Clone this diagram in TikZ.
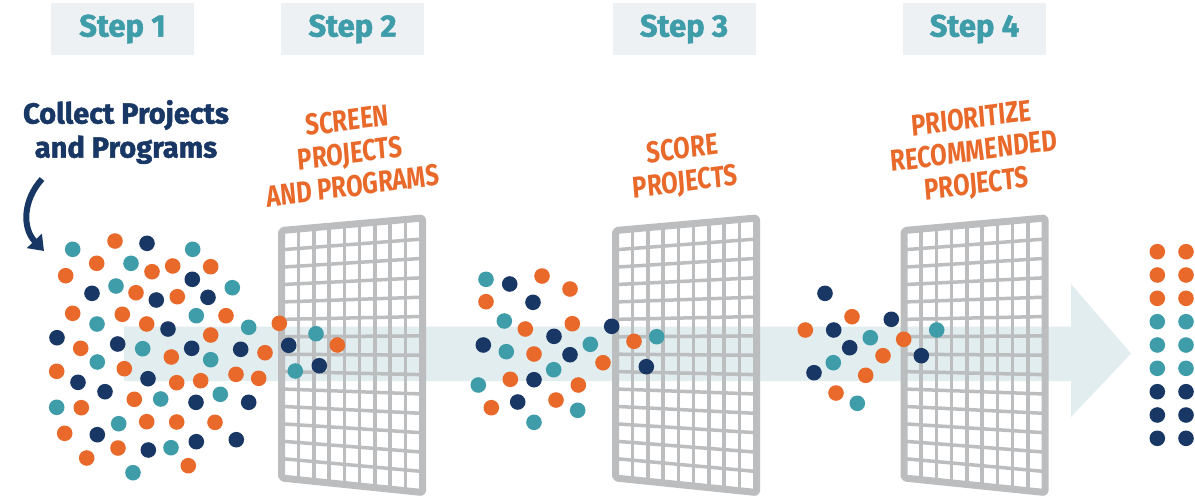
\documentclass[tikz,border=0pt]{standalone}
\usepackage{fontspec}
\newfontfamily\fira{Fira Sans}
\newfontfamily\firaheavy{Fira Sans}[BoldFeatures={FakeBold=1.6}]
\usetikzlibrary{calc,arrows.meta}
\definecolor{cO}{HTML}{E8692A}
\definecolor{cT}{HTML}{3F9DAA}
\definecolor{cN}{HTML}{183764}
\definecolor{band}{HTML}{E1EDEF}
\definecolor{stepfill}{HTML}{EDF1F4}
\definecolor{gridgray}{HTML}{BCBDBF}
\tikzset{
  stepbox/.style={fill=stepfill, minimum width=143pt, minimum height=52pt, inner sep=0pt,
    text=cT, font=\firaheavy\bfseries\fontsize{31}{31}\selectfont},
  orangetxt/.style={text=cO, align=center, xscale=0.8, rotate=6,
    font=\fira\bfseries\fontsize{30}{33}\selectfont},
  gridbar/.style={draw=gridgray, line width=3.5pt},
  framebar/.style={draw=gridgray, line width=7pt, line join=round, rounded corners=2pt},
  dotO/.style={fill=cO},
  dotT/.style={fill=cT},
  dotN/.style={fill=cN},
}
\begin{document}
\begin{tikzpicture}[x=1pt,y=-1pt]
\useasboundingbox[fill=white] (0,0) rectangle (1195,496);
% flow band arrow
\fill[band] (124,326.7) -- (1071,326.7) -- (1071,284) -- (1131,353.5) -- (1071,417) -- (1071,381) -- (124,381) -- cycle;
% screens
\foreach \sx [count=\k] in {278,612,900.5}{
  \begin{scope}[shift={(\sx,0)}]
    \coordinate (tl\k) at (3.5,230.5);
    \coordinate (tr\k) at (144.5,218);
    \coordinate (br\k) at (144.5,492.5);
    \coordinate (bl\k) at (3.5,478);
    \coordinate (itl\k) at (5.25,232.2);
    \coordinate (itr\k) at (142.75,219.8);
    \coordinate (ibr\k) at (142.75,490.7);
    \coordinate (ibl\k) at (5.25,476.2);
    \foreach \i in {1,...,8}
      \draw[gridbar] ($(itl\k)!\i/9!(itr\k)$) -- ($(ibl\k)!\i/9!(ibr\k)$);
    \foreach \j in {1,...,13}
      \draw[gridbar] ($(itl\k)!\j/14!(ibl\k)$) -- ($(itr\k)!\j/14!(ibr\k)$);
    \draw[framebar] (tl\k) -- (tr\k) -- (br\k) -- (bl\k) -- cycle;
  \end{scope}
}
% dots: orange
\foreach \p in {(115,241),(96.7,263.3),(152,271.7),(172.7,266),(210.7,266.7),(65.7,275.7),(136,292.7),(177.3,296.7),(72.7,313.3),(122.3,314.3),(226,315.7),(146.7,324),(279.3,323.3),(210.7,335),(80.7,348.3),(337.3,345),(171.3,357),(265,352.7),(124.3,368.7),(56.7,371.3),(236,374.3),(258.7,378.3),(176.7,382.7),(200.7,380.7),(134.3,399.3),(81.3,407.7),(146.7,421.7),(176.7,422),(215,422.3),(64.7,433.3),(118,448),(86.7,458),(188.3,465.7),
  (542,276),(570,289),(486,301.7),(525.3,329),(572.3,323.7),(534,354),(634,341.3),(603,362.7),(510.3,379.3),(578.3,385),(556,400),(491.3,407.7),
  (852,316.7),(805.3,330),(903.7,339.3),(883,355.7),(865.7,375.3),(836,393),
  (1157.3,251.7),(1186,251.7),(1157.3,275),(1186,275),(1157.3,298.3),(1186,298.3)}
  \fill[dotO] \p circle (7.8);
% dots: teal
\foreach \p in {(72.7,249.3),(192.7,249.3),(131,263.3),(116,286),(232.3,287.7),(196.3,315.7),(97,324),(248.7,327.3),(316,333.7),(142.7,348.7),(210.7,359.7),(97.3,362),(295.3,371),(160.7,399),(220.3,394.3),(56.7,407.3),(118.7,423.7),(171,447.7),(133,472.7),
  (486,279.3),(504.3,321),(506.3,351.7),(590.3,344.3),(656.7,336.7),(553.7,369.7),(478.3,385),(577.7,410.3),(534,422.3),
  (870.3,337.7),(936.7,330),(833.3,362.7),(857.3,403.3),
  (1157.3,321.7),(1186,321.7),(1157.3,345),(1186,345),(1157.3,368.3),(1186,368.3)}
  \fill[dotT] \p circle (7.8);
% dots: navy
\foreach \p in {(147,243.3),(192.3,279.3),(92,293.3),(156.3,300),(208,297.3),(168,329),(57,337.7),(117.7,344),(191.7,348.3),(240.7,349.3),(288.7,345.3),(319.3,365.7),(148,378.7),(78,382.3),(105,391.7),(196,402.3),(248.7,402.3),(97.3,434.7),(148.3,450),(196.3,441.7),(236.3,439.7),
  (509.7,284),(533,302.3),(554,336.3),(611.7,326.3),(483.3,345),(570,354.7),(646.3,366.7),(534,379.7),(517.7,402),
  (825,293.3),(891.3,319.3),(833.7,330),(849.7,347.7),(921.3,355.7),(814,372.7),
  (1157.3,391.7),(1186,391.7),(1157.3,415),(1186,415),(1157.3,438.3),(1186,438.3)}
  \fill[dotN] \p circle (7.8);
% step labels
\node[stepbox] (s1) at (122.5,29) {Step 1};
\node[stepbox] (s2) at (352.5,29) {Step 2};
\node[stepbox] (s3) at (684,29) {Step 3};
\node[stepbox] (s4) at (974.5,29) {Step 4};
% titles
\node[text=cN, align=center, font=\firaheavy\bfseries\fontsize{29}{34}\selectfont] (collect) at (126,132) {Collect Projects\\and Programs};
\node[orangetxt] (t2) at (350,153) {SCREEN\\PROJECTS\\AND PROGRAMS};
\node[orangetxt] (t3) at (684,167) {SCORE\\PROJECTS};
\node[orangetxt] (t4) at (974,153) {PRIORITIZE\\RECOMMENDED\\PROJECTS};
% curved arrow
\coordinate (ca) at (42,179);
\coordinate (cb) at (44,251);
\draw[cN, line width=6pt, -{Triangle[length=14pt,width=20pt]}] (ca) .. controls (23,200) and (22,228) .. (cb);
\end{tikzpicture}
\end{document}
